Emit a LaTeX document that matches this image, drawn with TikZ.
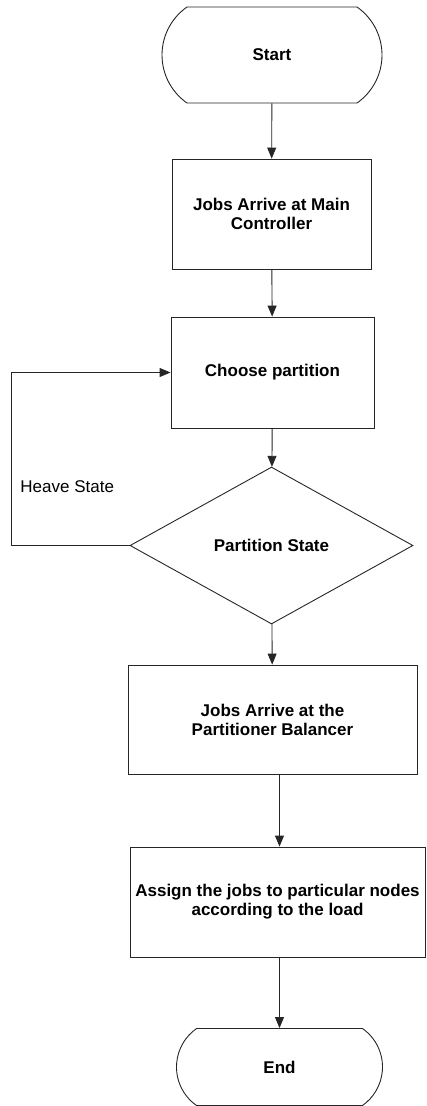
\documentclass[tikz,border=0pt]{standalone}
\usepackage{fontspec}
\setmainfont{Liberation Sans}
\usepackage{tikz}
\usetikzlibrary{shapes.misc}
\usetikzlibrary{shapes.geometric}
\usetikzlibrary{arrows.meta}

\begin{document}
\begin{tikzpicture}[x=1pt, y=-1pt,
  >={Triangle[length=11pt,width=9pt]},
  line width=0.9pt,
  txt/.style={font=\fontsize{17}{19}\selectfont\bfseries, align=center, inner sep=0pt},
  term/.style={txt, draw=black!85, rounded rectangle, rounded rectangle arc length=110},
  proc/.style={txt, draw=black!85, rectangle},
  dec/.style={txt, draw=black!85, diamond}]
\useasboundingbox (0,0) rectangle (426,1106);
%NODI
\node[term, minimum width=220pt, minimum height=96pt] (start) at (272,55) {Start};
\node[proc, minimum width=199pt, minimum height=110pt] (jam) at (271.5,214) {Jobs Arrive at Main\\Controller};
\node[proc, minimum width=203pt, minimum height=111pt] (cp) at (272.5,372.5) {Choose partition};
\node[dec, minimum width=283pt, minimum height=157pt] (ps) at (271.5,545.5) {Partition State};
\node[proc, minimum width=289pt, minimum height=109pt] (jpb) at (272.5,719.5) {Jobs Arrive at the\\Partitioner Balancer};
\node[proc, minimum width=295pt, minimum height=110pt] (asg) at (277.5,902) {Assign the jobs to particular nodes\\according to the load};
\node[term, minimum width=206pt, minimum height=77pt] (stop) at (279.5,1067) {End};
\node[anchor=west, font=\fontsize{17}{19}\selectfont, inner sep=0pt] (hs) at (20,487) {Heave State};
\coordinate (loop) at (11.5,545.5);
%FRECCE
\draw[->, black!85] (start) -- (jam);
\draw[->, black!85] (jam) -- (cp);
\draw[->, black!85] (cp) -- (ps);
\draw[->, black!85] (ps) -- (jpb);
\draw[->, black!85] (jpb.south -| stop) -- (asg.north -| stop);
\draw[->, black!85] (asg.south -| stop) -- (stop);
% RITORNO
\draw[->, black!85] (ps.west) -- (loop) |- (cp.west);
\end{tikzpicture}
\end{document}
